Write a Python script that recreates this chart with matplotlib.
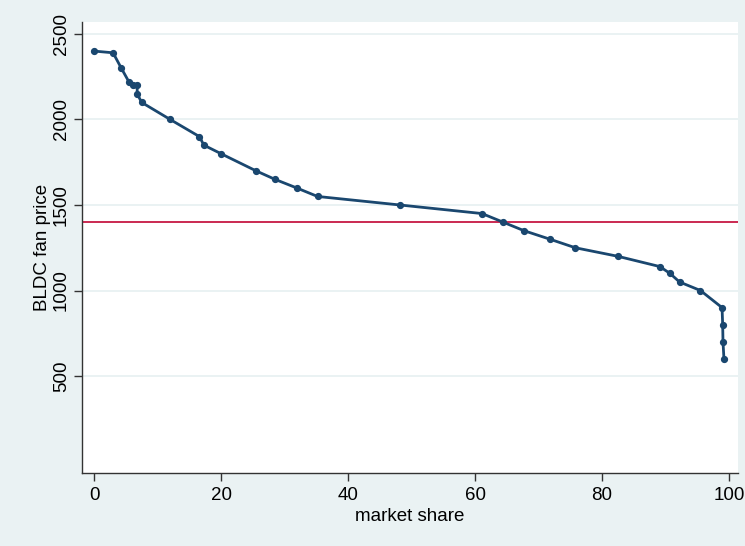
import matplotlib
matplotlib.use("Agg")
import matplotlib.pyplot as plt

# -------------------------
# DATA
# -------------------------
market_share = [0.0, 3.0, 4.3, 5.5, 6.1, 6.8, 6.8, 7.5, 12.0, 16.6, 17.3, 20.0,
                25.5, 28.5, 31.9, 35.2, 48.2, 61.1, 64.4, 67.7, 71.8, 75.8,
                82.5, 89.1, 90.7, 92.2, 95.5, 98.9, 99.0, 99.05, 99.2]
fan_price = [2400, 2390, 2300, 2220, 2200, 2200, 2150, 2100, 2000, 1900, 1850, 1800,
             1700, 1650, 1600, 1550, 1500, 1450, 1400, 1350, 1300, 1250,
             1200, 1140, 1100, 1050, 1000, 900, 800, 700, 600]
ref_price = 1400
x_ticks = [0, 20, 40, 60, 80, 100]
y_ticks = [500, 1000, 1500, 2000, 2500]

BG = "#EAF2F3"
NAVY = "#1A476F"
RED = "#C10534"

plt.rcParams["font.family"] = ["Liberation Sans", "DejaVu Sans"]

fig = plt.figure(figsize=(7.45, 5.46), dpi=100, facecolor=BG)
ax = fig.add_axes([0.1105, 0.1337, 0.880, 0.826])
ax.set_facecolor("white")

ax.plot(market_share, fan_price, color=NAVY, lw=2.0, marker="o", ms=4.2,
        zorder=3)
ax.axhline(ref_price, color=RED, lw=1.2, zorder=2)

ax.set_xlim(-1.84, 101.4)
ax.set_ylim(-67, 2570)
ax.set_xticks(x_ticks)
ax.set_yticks(y_ticks)
ax.grid(axis="y", color=BG, lw=1.4, zorder=0)

for side in ["top", "right"]:
    ax.spines[side].set_visible(False)
for side in ["left", "bottom"]:
    ax.spines[side].set_color("#333333")
    ax.spines[side].set_linewidth(1.0)

ax.tick_params(axis="both", direction="out", length=6, width=1.0,
               color="#333333", labelsize=13.5, pad=4)
ax.tick_params(axis="y", pad=3)
for lab in ax.get_yticklabels():
    lab.set_rotation(90)
    lab.set_va("center")

ax.set_xlabel("market share", fontsize=13.5, labelpad=3)
ax.set_ylabel("BLDC fan price", fontsize=13.5, labelpad=1)

fig.savefig("out.png", dpi=100, facecolor=BG)
